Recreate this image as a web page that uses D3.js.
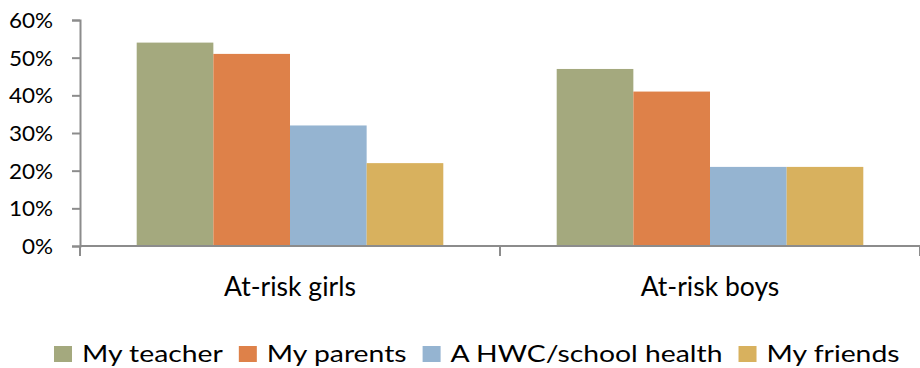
<!DOCTYPE html>
<html>
<head>
<meta charset="utf-8">
<script src="https://cdn.jsdelivr.net/npm/d3@7/dist/d3.min.js"></script>
<style>
  html, body { margin: 0; padding: 0; background: #fff; }
  svg { display: block; font-family: "Lato", "Open Sans", sans-serif; }
</style>
</head>
<body>
<svg id="chart" width="920" height="368"></svg>
<script>
// Who the at-risk students would talk to, by group
const groups = ["At-risk girls", "At-risk boys"];
const seriesNames = ["My teacher", "My parents", "A HWC/school health", "My friends"];
const teacher = [0.54, 0.47];
const parents = [0.51, 0.41];
const hwc = [0.32, 0.21];
const friends = [0.22, 0.21];
const yTicks = [0, 0.1, 0.2, 0.3, 0.4, 0.5, 0.6];
const colors = ["#A4A97E", "#DE8149", "#95B4D1", "#D8B15E"];

const seriesValues = [teacher, parents, hwc, friends];

const svg = d3.select("#chart");
const axisColor = "#8c8c8c";

// Widen a text element horizontally by a factor, keeping its glyphs
function stretch(sel, factor) {
  sel.each(function () {
    const w = this.getComputedTextLength();
    d3.select(this).attr("textLength", w * factor).attr("lengthAdjust", "spacingAndGlyphs");
  });
}

const y = d3.scaleLinear().domain([0, 0.6]).range([246, 20]);
const x0 = d3.scaleBand().domain(groups).range([80, 920]);
const bw = x0.bandwidth();
const edge = bw * 0.135;
const x1 = d3.scaleBand().domain(seriesNames).range([edge, bw - edge]);

// Bars
groups.forEach((g, gi) => {
  const gEl = svg.append("g").attr("transform", `translate(${x0(g)},0)`);
  gEl.selectAll("rect")
    .data(seriesNames.map((s, si) => ({ s, v: seriesValues[si][gi], c: colors[si] })))
    .join("rect")
    .attr("x", d => x1(d.s))
    .attr("width", x1.bandwidth())
    .attr("y", d => y(d.v))
    .attr("height", d => y(0) - y(d.v))
    .attr("fill", d => d.c);
});

// Y axis
const yAxis = d3.axisLeft(y).tickValues(yTicks).tickFormat(d3.format(".0%"))
  .tickSize(8).tickPadding(19);
const yG = svg.append("g").attr("transform", "translate(80,0)").call(yAxis);
yG.select(".domain").attr("stroke", axisColor).attr("stroke-width", 2);
yG.selectAll(".tick line").attr("stroke", axisColor).attr("stroke-width", 2);
yG.selectAll(".tick text").attr("font-size", 21).attr("fill", "#000")
  .attr("font-family", "Lato, sans-serif").attr("dy", "0.36em");
stretch(yG.selectAll(".tick text"), 1.07);

// X axis: baseline plus dividers between categories
const xG = svg.append("g").attr("transform", `translate(0,${y(0)})`);
xG.append("line").attr("x1", 80).attr("x2", 920).attr("stroke", axisColor).attr("stroke-width", 2);
[80, ...groups.map(g => x0(g) + bw)].forEach(px => {
  xG.append("line").attr("x1", px).attr("x2", px).attr("y1", 0).attr("y2", 10)
    .attr("stroke", axisColor).attr("stroke-width", 2);
});
const cats = xG.selectAll("text.cat").data(groups).join("text")
  .attr("class", "cat")
  .attr("x", g => x0(g) + bw / 2)
  .attr("y", 50)
  .attr("text-anchor", "middle")
  .attr("font-size", 26)
  .attr("fill", "#000")
  .text(g => g);
stretch(cats, 1.02);

// Legend
const legend = svg.append("g").attr("transform", "translate(0,362)");
let lx = 54;
seriesNames.forEach((s, i) => {
  legend.append("rect").attr("x", lx).attr("y", -16).attr("width", 18).attr("height", 16)
    .attr("fill", colors[i]);
  const t = legend.append("text").attr("x", lx + 28).attr("y", 0)
    .attr("font-size", 24).attr("fill", "#000").text(s);
  const w = t.node().getComputedTextLength() * 1.18;
  t.attr("textLength", w).attr("lengthAdjust", "spacingAndGlyphs");
  lx += 28 + w + 16;
});
</script>
</body>
</html>
